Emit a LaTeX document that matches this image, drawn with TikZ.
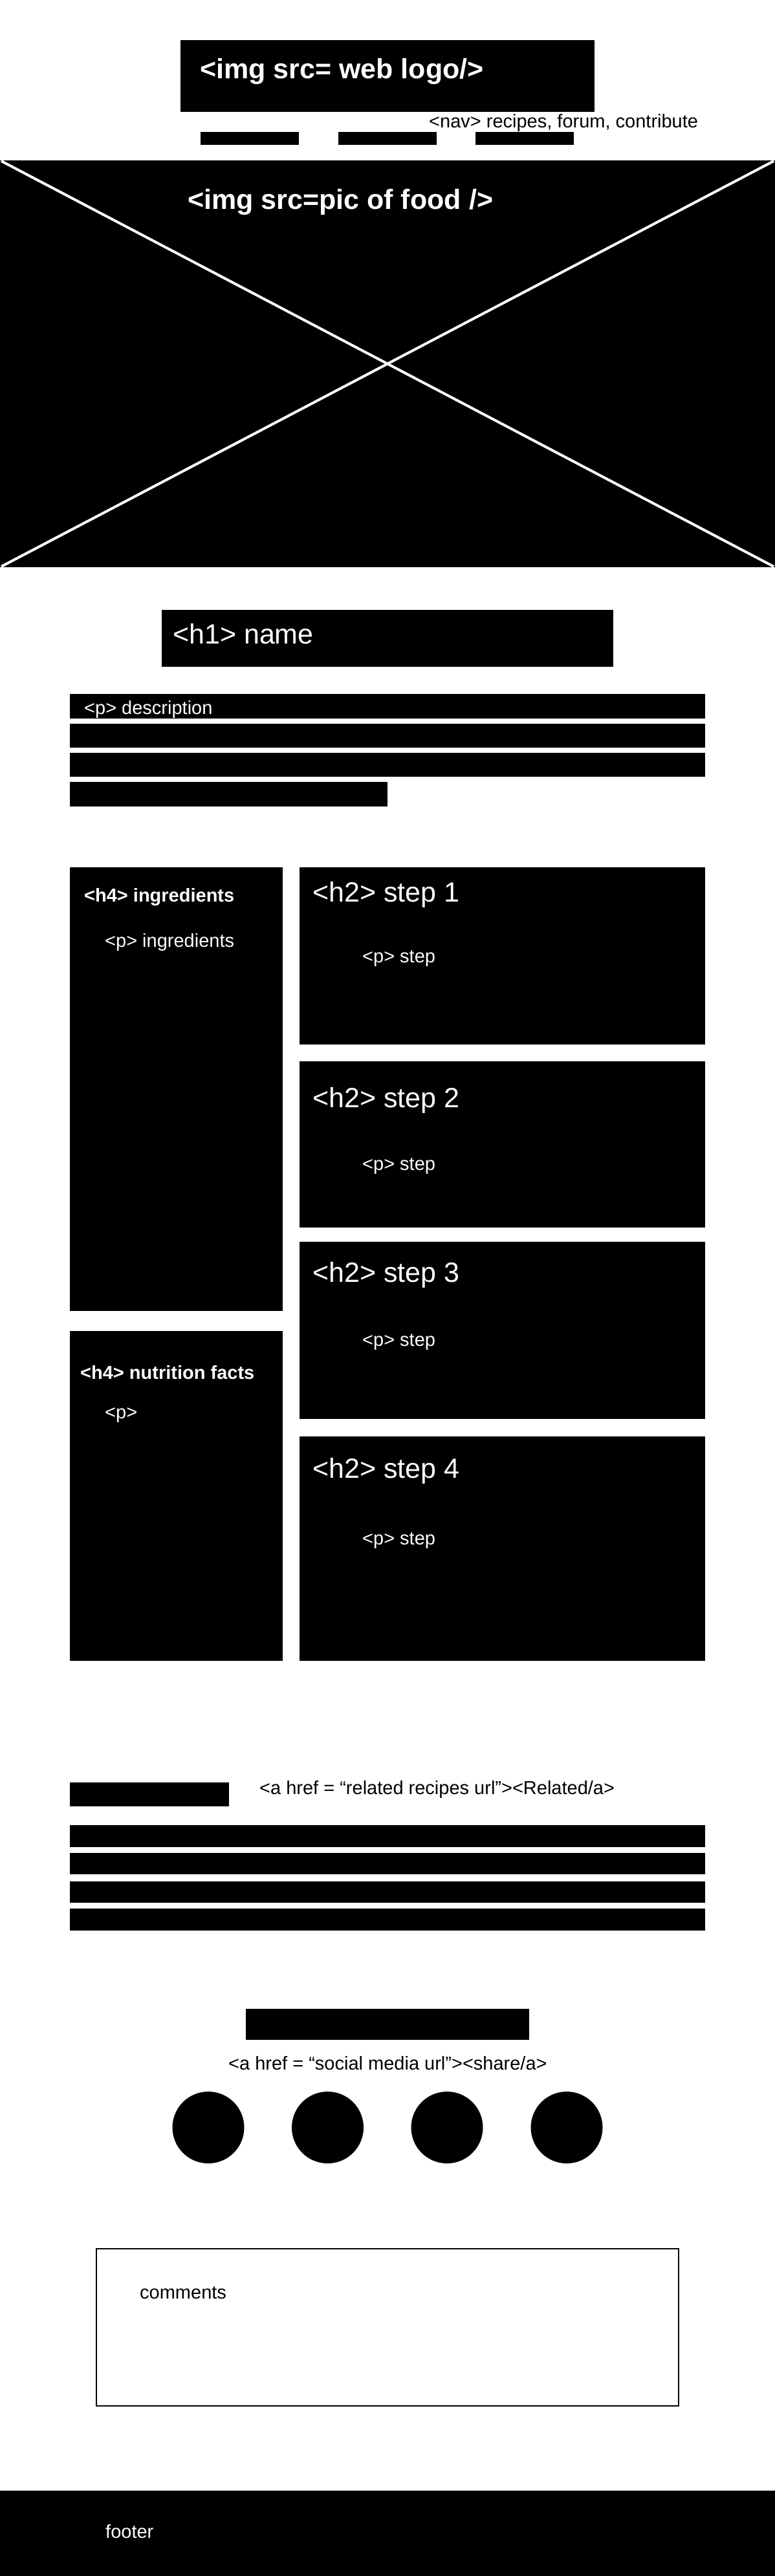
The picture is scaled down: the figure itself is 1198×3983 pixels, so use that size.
\documentclass[tikz,border=0pt]{standalone}
\usepackage{fontspec}
\setmainfont{Liberation Sans}
\tikzset{
  blk/.style={fill=black,draw=none},
  wt/.style={text=white,anchor=base west,inner sep=0pt},
  bt/.style={text=black,anchor=base west,inner sep=0pt},
  big/.style={font=\fontsize{43}{50}\selectfont},
  bigb/.style={font=\fontsize{43}{50}\selectfont\bfseries},
  sm/.style={font=\fontsize{29}{34}\selectfont},
  smb/.style={font=\fontsize{29}{34}\selectfont\bfseries},
}
\begin{document}
\begin{tikzpicture}[x=1pt,y=-1pt]
\useasboundingbox (0,0) rectangle (1198,3983);
\fill[white] (0,0) rectangle (1198,3983);
% logo
\fill[blk] (279,62) rectangle (919,173);
\node[wt,bigb] (logo) at (309,121) {<img src= web logo/>};
% nav
\fill[blk] (310,204) rectangle (462,224);
\fill[blk] (523,204) rectangle (675,224);
\fill[blk] (735,204) rectangle (887,224);
\node[bt,sm] (nav) at (663,197) {<nav> recipes, forum, contribute};
% food image
\fill[blk] (0,248) rectangle (1198,877);
\coordinate (ftl) at (2,249);
\coordinate (ftr) at (1196,249);
\coordinate (fbl) at (2,876);
\coordinate (fbr) at (1196,876);
\draw[white,line width=4pt] (ftl) -- (fbr);
\draw[white,line width=4pt] (fbl) -- (ftr);
\node[wt,bigb] (food) at (290,323) {<img src=pic of food />};
% h1
\fill[blk] (250,943) rectangle (948,1031);
\node[wt,big] (h1) at (267,995) {<h1> name};
% description
\fill[blk] (108,1073) rectangle (1090,1111);
\fill[blk] (108,1119) rectangle (1090,1156);
\fill[blk] (108,1164) rectangle (1090,1201);
\fill[blk] (108,1209) rectangle (599,1247);
\node[wt,sm] (desc) at (130,1104) {<p> description};
% ingredients
\fill[blk] (108,1341) rectangle (437,2027);
\node[wt,smb] (h4i) at (130,1394) {<h4> ingredients};
\node[wt,sm] (pi) at (162,1464) {<p> ingredients};
% nutrition
\fill[blk] (108,2058) rectangle (437,2568);
\node[wt,smb] (h4n) at (124,2132) {<h4> nutrition facts};
\node[wt,sm] (pn) at (162,2193) {<p>};
% steps
\fill[blk] (463,1341) rectangle (1090,1615);
\node[wt,big] (s1) at (483,1394) {<h2> step 1};
\node[wt,sm] (p1) at (560,1488) {<p> step};
\fill[blk] (463,1641) rectangle (1090,1898);
\node[wt,big] (s2) at (483,1712) {<h2> step 2};
\node[wt,sm] (p2) at (560,1809) {<p> step};
\fill[blk] (463,1920) rectangle (1090,2194);
\node[wt,big] (s3) at (483,1982) {<h2> step 3};
\node[wt,sm] (p3) at (560,2081) {<p> step};
\fill[blk] (463,2221) rectangle (1090,2568);
\node[wt,big] (s4) at (483,2285) {<h2> step 4};
\node[wt,sm] (p4) at (560,2388) {<p> step};
% related
\fill[blk] (108,2756) rectangle (354,2793);
\node[bt,sm] (rel) at (401,2774) {<a href = “related recipes url”><Related/a>};
\fill[blk] (108,2822) rectangle (1090,2856);
\fill[blk] (108,2865) rectangle (1090,2898);
\fill[blk] (108,2909) rectangle (1090,2942);
\fill[blk] (108,2951) rectangle (1090,2985);
% share
\fill[blk] (380,3106) rectangle (818,3154);
\node[bt,sm] (share) at (353,3200) {<a href = “social media url”><share/a>};
\fill[blk] (322,3289.5) circle (55.5);
\fill[blk] (506.5,3289.5) circle (55.5);
\fill[blk] (691,3289.5) circle (55.5);
\fill[blk] (876,3289.5) circle (55.5);
% comments
\draw[black,line width=2pt] (149,3477) rectangle (1049,3720);
\node[bt,sm] (comm) at (216,3554) {comments};
% footer
\fill[blk] (0,3851) rectangle (1198,3983);
\node[wt,sm] (foot) at (163,3924) {footer};
\end{tikzpicture}
\end{document}
